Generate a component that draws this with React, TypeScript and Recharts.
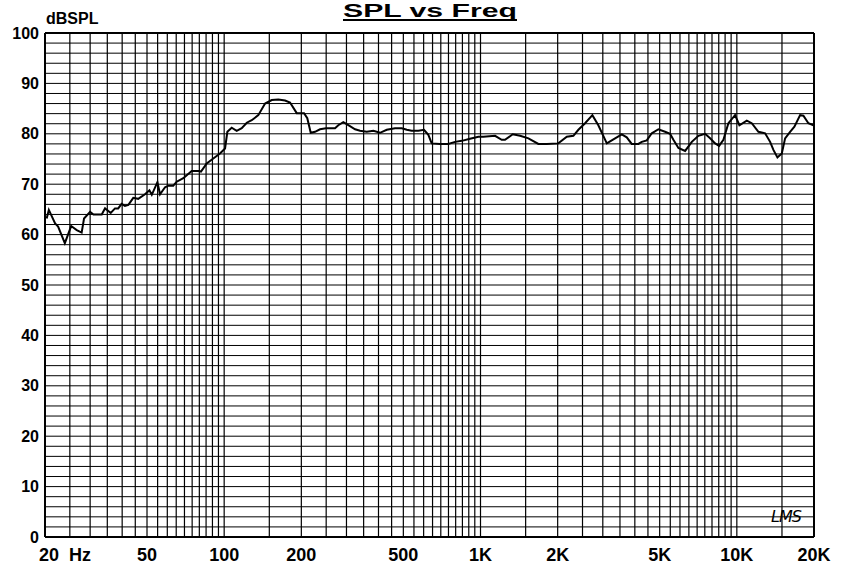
import React from "react";
import { LineChart, Line, XAxis, YAxis, ReferenceLine } from "recharts";

const freqHz = [
  20.3, 20.7, 21.9, 22.5, 23.9, 25.3, 26.6, 27.8, 28.4, 30.0, 30.9, 33.3, 34.3, 36.1, 37.5, 38.6, 39.8, 41.0, 42.3, 44.2,
  46.2, 49.1, 51.1, 52.2, 54.9, 56.2, 58.8, 60.6, 63.3, 65.3, 69.3, 74.7, 79.3, 81.2, 85.5, 90.7, 96.3, 100.8,
  102.9, 107.0, 111.9, 117.1, 122.5, 128.1, 135.9, 144.4, 153.3, 162.7, 172.8, 180.7, 191.9, 204.9, 211.0, 217.6,
  226.2, 236.6, 249.8, 258.8, 270.7, 278.8, 291.6, 305.1, 324.1, 338.9, 359.9, 382.0, 405.7, 430.8, 464.2, 493,
  516, 539, 572, 602, 626, 645, 695, 749, 796, 845, 910, 981,
  1026, 1140, 1210, 1246, 1336, 1427, 1538, 1682, 1813, 2012, 2171, 2303, 2409, 2558, 2732, 2882, 3110, 3300,
  3557, 3720, 3890, 4130, 4258, 4453,
  4658, 4944, 5248, 5490, 5656, 5917, 6284, 6674, 7080, 7520, 7866, 8228, 8528, 8864, 9270, 9844, 10232, 10934,
  11436, 12140, 12892, 13484, 13890, 14398, 14976, 15428, 16136, 16772, 17656, 18184, 19016, 19894,
];

const splDb = [
  63.2, 64.9, 62.2, 61.6, 58.3, 61.7, 60.9, 60.4, 63.2, 64.5, 64.0, 64.0, 65.2, 64.3, 65.2, 65.2, 66.1, 65.7, 65.9, 67.3,
  67.1, 68.0, 68.8, 67.9, 70.4, 68.0, 69.4, 69.7, 69.7, 70.5, 71.2, 72.6, 72.6, 72.5, 74.1, 75.1, 76.1, 77.1,
  80.4, 81.2, 80.6, 81.1, 82.2, 82.7, 83.7, 86.0, 86.7, 86.8, 86.6, 86.2, 84.1, 84.1, 83.1, 80.2,
  80.4, 80.9, 81.1, 81.1, 81.1, 81.7, 82.3, 81.7, 80.9, 80.6, 80.4, 80.6, 80.2, 80.8, 81.1, 81.1,
  80.8, 80.6, 80.6, 80.8, 79.8, 78.1, 78.0, 78.0, 78.4, 78.6, 79.0, 79.4,
  79.4, 79.6, 78.8, 78.8, 79.9, 79.6, 79.1, 78.0, 78.0, 78.1, 79.4, 79.6, 80.8, 82.1, 83.7, 81.7, 78.1, 78.9,
  79.9, 79.3, 78.0, 78.0, 78.4, 78.7,
  80.1, 80.9, 80.4, 80.0, 78.8, 77.2, 76.6, 78.4, 79.6, 80.0, 79.1, 78.1, 77.6, 78.8, 82.1, 83.7, 81.7, 82.6,
  82.1, 80.4, 80.1, 78.4, 76.8, 75.3, 76.1, 79.1, 80.4, 81.4, 83.7, 83.6, 82.1, 81.7,
];

const xTickValues = [20, 50, 100, 200, 500, 1000, 2000, 5000, 10000, 20000];
const xTickLabels = ["20", "50", "100", "200", "500", "1K", "2K", "5K", "10K", "20K"];
const yTickValues = [0, 10, 20, 30, 40, 50, 60, 70, 80, 90, 100];

const verticalGrid: number[] = [];
for (let v = 25; v < 100; v += 5) verticalGrid.push(v);
for (const base of [100, 1000, 10000]) {
  for (let m = 1; m < 10; m += 0.5) {
    const v = base * m;
    if (v > 20000) break;
    verticalGrid.push(v);
  }
}
const horizontalGrid: number[] = [];
for (let v = 2; v < 100; v += 2) horizontalGrid.push(v);

const data = freqHz.map((f, i) => ({ f, spl: splDb[i] }));

const labelFont = "'Liberation Sans', Arial, sans-serif";
const narrowFont = "'Liberation Sans Narrow', 'Arial Narrow', 'Liberation Sans', Arial, sans-serif";

const XTick = (props: any) => {
  const { x, y, payload, index } = props;
  const i = xTickValues.indexOf(payload.value);
  const label = i >= 0 ? xTickLabels[i] : String(payload.value);
  if (index === 0 || payload.value === 20) {
    return (
      <g>
        <text x={x + 4} y={y} dy="0.71em" textAnchor="middle" fontFamily={narrowFont} fontWeight="bold" fontSize={18} fill="#000">
          20
        </text>
        <text x={x + 35} y={y} dy="0.71em" textAnchor="middle" fontFamily={narrowFont} fontWeight="bold" fontSize={18} fill="#000">
          Hz
        </text>
      </g>
    );
  }
  return (
    <text x={x} y={y} dy="0.71em" textAnchor="middle" fontFamily={narrowFont} fontWeight="bold" fontSize={18} fill="#000">
      {label}
    </text>
  );
};

const YTick = (props: any) => {
  const { x, y, payload } = props;
  return (
    <text x={x} y={y} dy="0.355em" textAnchor="end" fontFamily={labelFont} fontWeight="bold" fontSize={16} fill="#000">
      {payload.value}
    </text>
  );
};

export default function App() {
  return (
    <div style={{ position: "absolute", left: 0, top: 0, width: 845, height: 568, background: "#fff", overflow: "hidden" }}>
      <LineChart width={845} height={568} data={data} margin={{ top: 33, right: 31, bottom: 0, left: 0 }}>
        <XAxis
          dataKey="f"
          type="number"
          scale="log"
          domain={[20, 20000]}
          allowDataOverflow
          ticks={xTickValues}
          interval={0}
          tick={<XTick />}
          tickLine={false}
          axisLine={false}
          tickSize={0}
          tickMargin={11}
          height={31}
        />
        <YAxis
          type="number"
          domain={[0, 100]}
          ticks={yTickValues}
          interval={0}
          tick={<YTick />}
          tickLine={false}
          axisLine={false}
          tickSize={0}
          tickMargin={6}
          width={45}
        />
        {horizontalGrid.map((v) => (
          <ReferenceLine key={"h" + v} y={v} stroke="#000" strokeWidth={1} />
        ))}
        {verticalGrid.map((v) => (
          <ReferenceLine key={"v" + v} x={v} stroke="#000" strokeWidth={1.2} />
        ))}
        <ReferenceLine x={20} stroke="#000" strokeWidth={2} ifOverflow="visible" />
        <ReferenceLine x={20000} stroke="#000" strokeWidth={2} ifOverflow="visible" />
        <ReferenceLine y={0} stroke="#000" strokeWidth={2} ifOverflow="visible" />
        <ReferenceLine y={100} stroke="#000" strokeWidth={2} ifOverflow="visible" />
        <Line
          dataKey="spl"
          type="linear"
          stroke="#000"
          strokeWidth={2}
          dot={false}
          isAnimationActive={false}
        />
      </LineChart>
      <svg width={845} height={568} style={{ position: "absolute", left: 0, top: 0, pointerEvents: "none" }}>
        <text
          x={343}
          y={17}
          textAnchor="start"
          fontFamily={labelFont}
          fontWeight="bold"
          fontSize={18}
          fill="#000"
          textLength={174}
          lengthAdjust="spacingAndGlyphs"
        >
          SPL vs Freq
        </text>
        <rect x={343} y={19} width={174} height={2} fill="#000" />
        <text x={46} y={24} textAnchor="start" fontFamily={labelFont} fontWeight="bold" fontSize={16} fill="#000">
          dBSPL
        </text>
        <text x={786} y={522} textAnchor="middle" fontFamily="'DejaVu Sans', sans-serif" fontStyle="italic" fontSize={16} fill="#000" letterSpacing={-1}>
          LMS
        </text>
      </svg>
    </div>
  );
}
